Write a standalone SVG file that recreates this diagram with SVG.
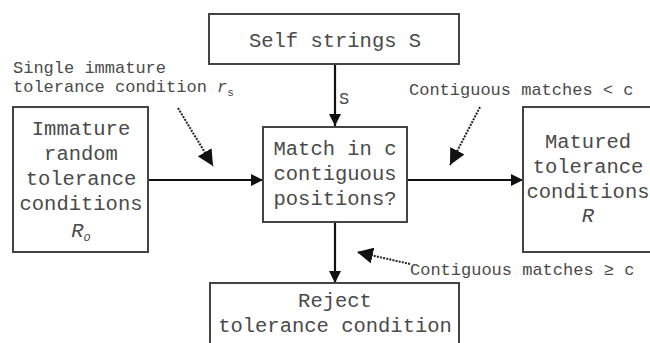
<svg xmlns="http://www.w3.org/2000/svg" width="650" height="343" viewBox="0 0 650 343">
<defs>
<marker id="ah" viewBox="0 0 10 10" refX="10" refY="5" markerWidth="5.5" markerHeight="5.5" orient="auto" markerUnits="strokeWidth">
<path d="M0,0 L10,5 L0,10 z" fill="#111"/>
</marker>
<marker id="ahd" viewBox="0 0 10 10" refX="10" refY="5" markerWidth="8" markerHeight="8" orient="auto" markerUnits="strokeWidth">
<path d="M0,0 L10,5 L0,10 z" fill="#111"/>
</marker>
<style>
.box{fill:#fff;stroke:#444;stroke-width:2}
.t{font-family:"Liberation Mono","DejaVu Sans Mono",monospace;fill:#4a4a4a;font-size:20.5px;text-anchor:middle}
.a{font-family:"Liberation Mono","DejaVu Sans Mono",monospace;fill:#4a4a4a;font-size:17px}
.conn{stroke:#111;stroke-width:2.2;fill:none;marker-end:url(#ah)}
.dot{stroke:#222;stroke-width:2;stroke-dasharray:2 1.2;fill:none;marker-end:url(#ahd)}
</style>
</defs>
<rect width="650" height="343" fill="#fff"/>
<g id="connectors">
<line class="conn" x1="335" y1="64" x2="335" y2="126"/>
<line class="conn" x1="148" y1="180" x2="263" y2="180"/>
<line class="conn" x1="407" y1="180" x2="523" y2="180"/>
<line class="conn" x1="335" y1="222" x2="335" y2="283"/>
<line class="dot" x1="178" y1="108" x2="213" y2="166"/>
<line class="dot" x1="480" y1="107" x2="450" y2="165"/>
<line class="dot" x1="410" y1="264" x2="357" y2="252"/>
<text class="a" x="339" y="104">S</text>
</g>
<g id="self">
<rect class="box" x="209" y="14" width="250" height="50"/>
<text class="t" x="335" y="47">Self strings S</text>
</g>
<g id="immature">
<rect class="box" x="13" y="107" width="135" height="145"/>
<text class="t" x="81" y="135">Immature</text>
<text class="t" x="81" y="160">random</text>
<text class="t" x="81" y="185">tolerance</text>
<text class="t" x="81" y="210">conditions</text>
<text class="t" x="81" y="237" font-style="italic">R<tspan font-size="12" dy="4">o</tspan></text>
</g>
<g id="match">
<rect class="box" x="263" y="127" width="144" height="95"/>
<text class="t" x="335" y="155">Match in c</text>
<text class="t" x="335" y="180">contiguous</text>
<text class="t" x="335" y="205">positions?</text>
</g>
<g id="matured">
<rect class="box" x="523" y="107" width="140" height="145"/>
<text class="t" x="588" y="148">Matured</text>
<text class="t" x="588" y="173">tolerance</text>
<text class="t" x="588" y="198">conditions</text>
<text class="t" x="588" y="222" font-style="italic">R</text>
</g>
<g id="reject">
<rect class="box" x="210" y="283" width="249" height="70"/>
<text class="t" x="335" y="307">Reject</text>
<text class="t" x="335" y="332">tolerance condition</text>
</g>
<g id="labels">
<text class="a" x="13" y="73">Single immature</text>
<text class="a" x="13" y="92">tolerance condition <tspan font-style="italic">r</tspan><tspan font-size="11" dy="4">s</tspan></text>
<text class="a" x="409" y="95">Contiguous matches &lt; c</text>
<text class="a" x="410" y="275">Contiguous matches ≥ c</text>
</g>
</svg>
